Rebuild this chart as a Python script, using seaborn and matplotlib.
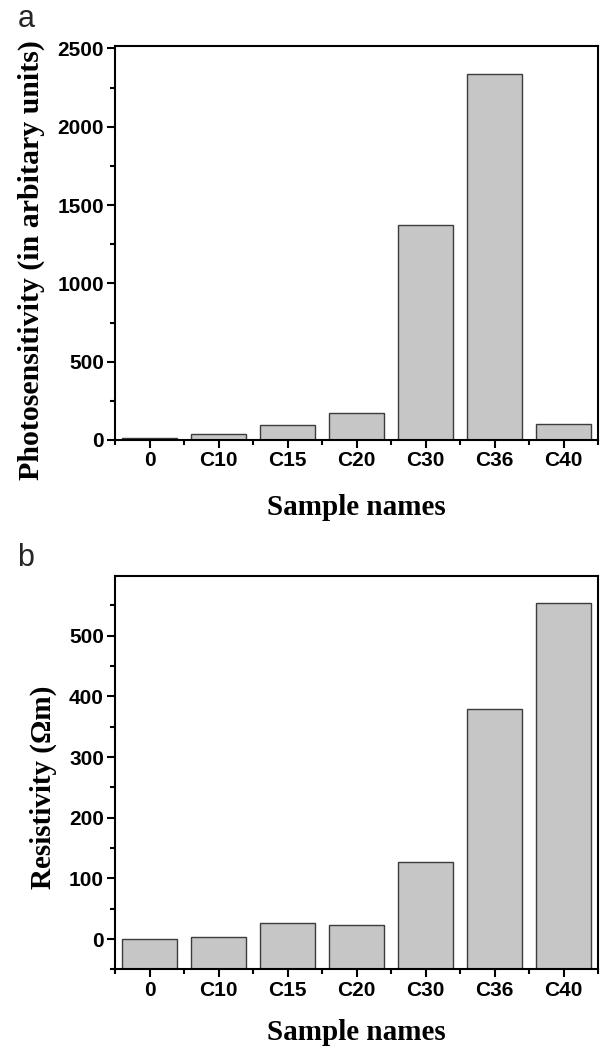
import pandas as pd
import matplotlib
matplotlib.use("Agg")
import matplotlib.pyplot as plt
from matplotlib.ticker import MultipleLocator, FixedLocator
import seaborn as sns

samples = ["0", "C10", "C15", "C20", "C30", "C36", "C40"]
photosensitivity = [12, 38, 94, 172, 1373, 2337, 105]
resistivity = [0, 3, 26, 24, 127, 379, 554]

sns.set_theme(style="ticks")
plt.rcParams["font.family"] = ["Liberation Sans", "DejaVu Sans"]
plt.rcParams["axes.linewidth"] = 1.5

BAR = "#c6c6c6"
EDGE = "#3c3c3c"
SERIF = ["Liberation Serif", "DejaVu Serif"]

fig = plt.figure(figsize=(6, 10.49), dpi=100)
ax_a = fig.add_axes([0.1917, 0.5806, 0.805, 0.3759])
ax_b = fig.add_axes([0.1917, 0.0758, 0.805, 0.3754])


def style_axes(ax, ylim, major, minor, ylabel, ylabel_size, ylab_x, ylab_y, xlab_y):
    ax.set_xlim(-0.5, len(samples) - 0.5)
    ax.set_ylim(*ylim)
    ax.yaxis.set_major_locator(MultipleLocator(major))
    ax.yaxis.set_minor_locator(MultipleLocator(minor))
    ax.xaxis.set_minor_locator(FixedLocator([i + 0.5 for i in range(-1, len(samples))]))
    for s in ax.spines.values():
        s.set_visible(True)
        s.set_linewidth(1.5)
        s.set_color("black")
    ax.tick_params(axis="both", which="major", direction="out", length=6, width=1.5,
                   color="black", labelsize=15, pad=2)
    ax.tick_params(axis="both", which="minor", direction="out", length=3.5, width=1.5,
                   color="black")
    ax.tick_params(top=False, right=False, which="both")
    for lab in ax.get_xticklabels() + ax.get_yticklabels():
        lab.set_fontweight("bold")
        lab.set_color("black")
    ax.set_xlabel("Sample names", fontsize=21, fontweight="bold", family=SERIF, color="black")
    ax.set_ylabel(ylabel, fontsize=ylabel_size, fontweight="bold", family=SERIF, color="black")
    ax.xaxis.label.set(va="baseline", ha="center")
    ax.yaxis.label.set(rotation_mode="anchor", va="baseline", ha="center")
    ax.xaxis.set_label_coords(0.5, xlab_y)
    ax.yaxis.set_label_coords(ylab_x, ylab_y)


# panel a
sns.barplot(x=samples, y=photosensitivity, ax=ax_a, color=BAR, saturation=1,
            edgecolor=EDGE, linewidth=1.0, width=0.81)
style_axes(ax_a, (0, 2518), 500, 250, "Photosensitivity (in arbitary units)", 21.5,
           -0.159, 0.455, -0.190)

# panel b -- bars start from the bottom of the axis like in Origin
sns.barplot(x=samples, y=resistivity, ax=ax_b, color=BAR, saturation=1,
            edgecolor=EDGE, linewidth=1.0, width=0.81)
base = -50
for p in ax_b.patches:
    h = p.get_height()
    p.set_y(base)
    p.set_height(h - base)
style_axes(ax_b, (base, 599), 100, 50, "Resistivity (\u03a9m)", 21,
           -0.1325, 0.462, -0.179)

fig.text(18 / 600, 1 - 27 / 1049, "a", fontsize=22, va="baseline", ha="left")
fig.text(17 / 600, 1 - 566 / 1049, "b", fontsize=22, va="baseline", ha="left")

fig.savefig("out.png", dpi=100)
